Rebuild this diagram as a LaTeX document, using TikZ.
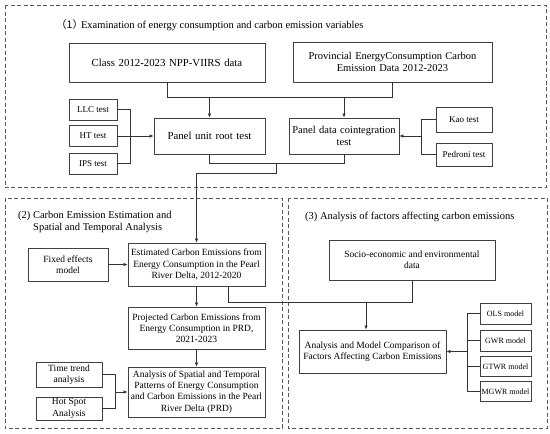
\documentclass[tikz,border=0pt]{standalone}
\usepackage{fontspec}
\setmainfont{Liberation Serif}
\newfontfamily\cjkf{Noto Sans CJK SC}
\usetikzlibrary{arrows.meta}
\begin{document}
\begin{tikzpicture}[x=1pt,y=-1pt,
  bx/.style={draw=black!75, line width=0.8pt, inner sep=1pt, align=center, font=\fontsize{9.5}{11.3}\selectfont},
  bxl/.style={bx, font=\fontsize{10.8}{12.5}\selectfont},
  sm/.style={bx, inner sep=0pt, font=\fontsize{9}{10.5}\selectfont},
  md/.style={bx, inner sep=0pt, font=\fontsize{8}{9.5}\selectfont},
  ln/.style={draw=black!80, line width=0.7pt},
  ar/.style={ln, -{Latex[length=4pt,width=3.5pt]}},
  grp/.style={draw=black!65, line width=0.8pt, dash pattern=on 4pt off 2.5pt},
  ttl/.style={anchor=west, inner sep=0pt, align=left, font=\fontsize{10.5}{12}\selectfont}]
\useasboundingbox (0,0) rectangle (550,434);
\fill[white] (0,0) rectangle (550,434);
% groups
\draw[grp] (5,5) rectangle (546,187);
\draw[grp] (5,198) rectangle (282,428);
\draw[grp] (288,198) rectangle (547,428);
% titles
\node[ttl] (t1) at (56,25) {{\cjkf （1）}\hspace{-2pt}Examination of energy consumption and carbon emission variables};
\node[ttl] (t2) at (18,216) {(2) Carbon Emission Estimation and};
\node[ttl] (t2b) at (33,228) {Spatial and Temporal Analysis};
\node[ttl] (t3) at (305,217) {(3) Analysis of factors affecting carbon emissions};
% part 1 nodes
\node[bxl, minimum width=196, minimum height=39, text width=190] (cls) at (167,62.5) {Class 2012-2023 NPP-VIIRS data};
\node[bx, font=\fontsize{10.5}{12.5}\selectfont, minimum width=199, minimum height=40, text width=195] (prov) at (392.5,62) {Provincial EnergyConsumption Carbon\\Emission Data 2012-2023};
\node[bxl, minimum width=111, minimum height=36, text width=107] (pur) at (209.5,136) {Panel unit root test};
\node[bx, font=\fontsize{10.5}{12.5}\selectfont, minimum width=110, minimum height=36, text width=108] (pct) at (344,136) {Panel data cointegration\\test};
\node[sm, minimum width=48, minimum height=21] (llc) at (93,109.5) {LLC test};
\node[sm, minimum width=48, minimum height=21] (ht) at (93,136) {HT test};
\node[sm, minimum width=48, minimum height=21] (ips) at (93,163.5) {IPS test};
\node[sm, minimum width=56, minimum height=25] (kao) at (464,119.5) {Kao test};
\node[sm, minimum width=56, minimum height=23] (ped) at (464,154.5) {Pedroni test};
% part 2 nodes
\node[bx, minimum width=80, minimum height=33] (fe) at (68,264.5) {Fixed effects\\model};
\node[bx, minimum width=137, minimum height=43] (est) at (196.5,264.5) {Estimated Carbon Emissions from\\Energy Consumption in the Pearl\\River Delta, 2012-2020};
\node[bx, minimum width=137, minimum height=42] (proj) at (196.5,328) {Projected Carbon Emissions from\\Energy Consumption in PRD,\\2021-2023};
\node[bx, minimum width=137, minimum height=50] (ana) at (196.5,392) {Analysis of Spatial and Temporal\\Patterns of Energy Consumption\\and Carbon Emissions in the Pearl\\River Delta (PRD)};
\node[bx, minimum width=66, minimum height=25] (tt) at (69,374.5) {Time trend\\analysis};
\node[bx, minimum width=66, minimum height=23] (hs) at (69,408.5) {Hot Spot\\Analysis};
% part 3 nodes
\node[bx, minimum width=166, minimum height=40] (soc) at (412,260) {Socio-economic and environmental\\data};
\node[bx, minimum width=147, minimum height=43] (amc) at (372.5,351.5) {Analysis and Model Comparison of\\Factors Affecting Carbon Emissions};
\node[md, minimum width=51, minimum height=21] (ols) at (505.5,313.5) {OLS model};
\node[md, minimum width=51, minimum height=21] (gwr) at (505.5,340.5) {GWR model};
\node[md, minimum width=51, minimum height=20] (gtwr) at (505.5,366.5) {GTWR model};
\node[md, minimum width=51, minimum height=20] (mgwr) at (505.5,391.5) {MGWR model};
% coordinates
\coordinate (j1) at (0,97);
\coordinate (j2) at (276,163);
\coordinate (j3) at (276,173);
\coordinate (b1) at (130,0);
\coordinate (b2) at (421,0);
\coordinate (b3) at (115,0);
\coordinate (b4) at (467,0);
\coordinate (e1x) at (228,0);
\coordinate (e2x) at (366,0);
\coordinate (j4) at (0,302);
% part 1 connectors
\draw[ln] (cls.south) |- (prov.south |- j1) -- (prov.south);
\draw[ar] (pur.north |- j1) -- (pur.north);
\draw[ar] (pct.north |- j1) -- (pct.north);
\draw[ln] (llc.east) -| (b1 |- ips.east) -- (ips.east);
\draw[ar] (ht.east) -- (pur.west);
\draw[ln] (kao.west) -| (b2 |- ped.west) -- (ped.west);
\draw[ar] (b2 |- pct.east) -- (pct.east);
\draw[ln] (pur.south) |- (pct.south |- j2) -- (pct.south);
\draw[ar] (j2) -- (j3) -| (est.north);
% part 2 connectors
\draw[ar] (fe.east) -- (est.west);
\draw[ar] (est.south) -- (proj.north);
\draw[ar] (proj.south) -- (ana.north);
\draw[ln] (tt.east) -| (b3 |- hs.east) -- (hs.east);
\draw[ar] (b3 |- ana.west) -- (ana.west);
% part 3 connectors
\draw[ln] (est.south -| e1x) |- (soc.south |- j4) -- (soc.south);
\draw[ar] (e2x |- j4) -- (e2x |- amc.north);
\draw[ln] (ols.west) -| (b4 |- mgwr.west) -- (mgwr.west);
\draw[ln] (gwr.west) -- (b4 |- gwr.west);
\draw[ln] (gtwr.west) -- (b4 |- gtwr.west);
\draw[ar] (b4 |- amc.east) -- (amc.east);
\end{tikzpicture}
\end{document}
